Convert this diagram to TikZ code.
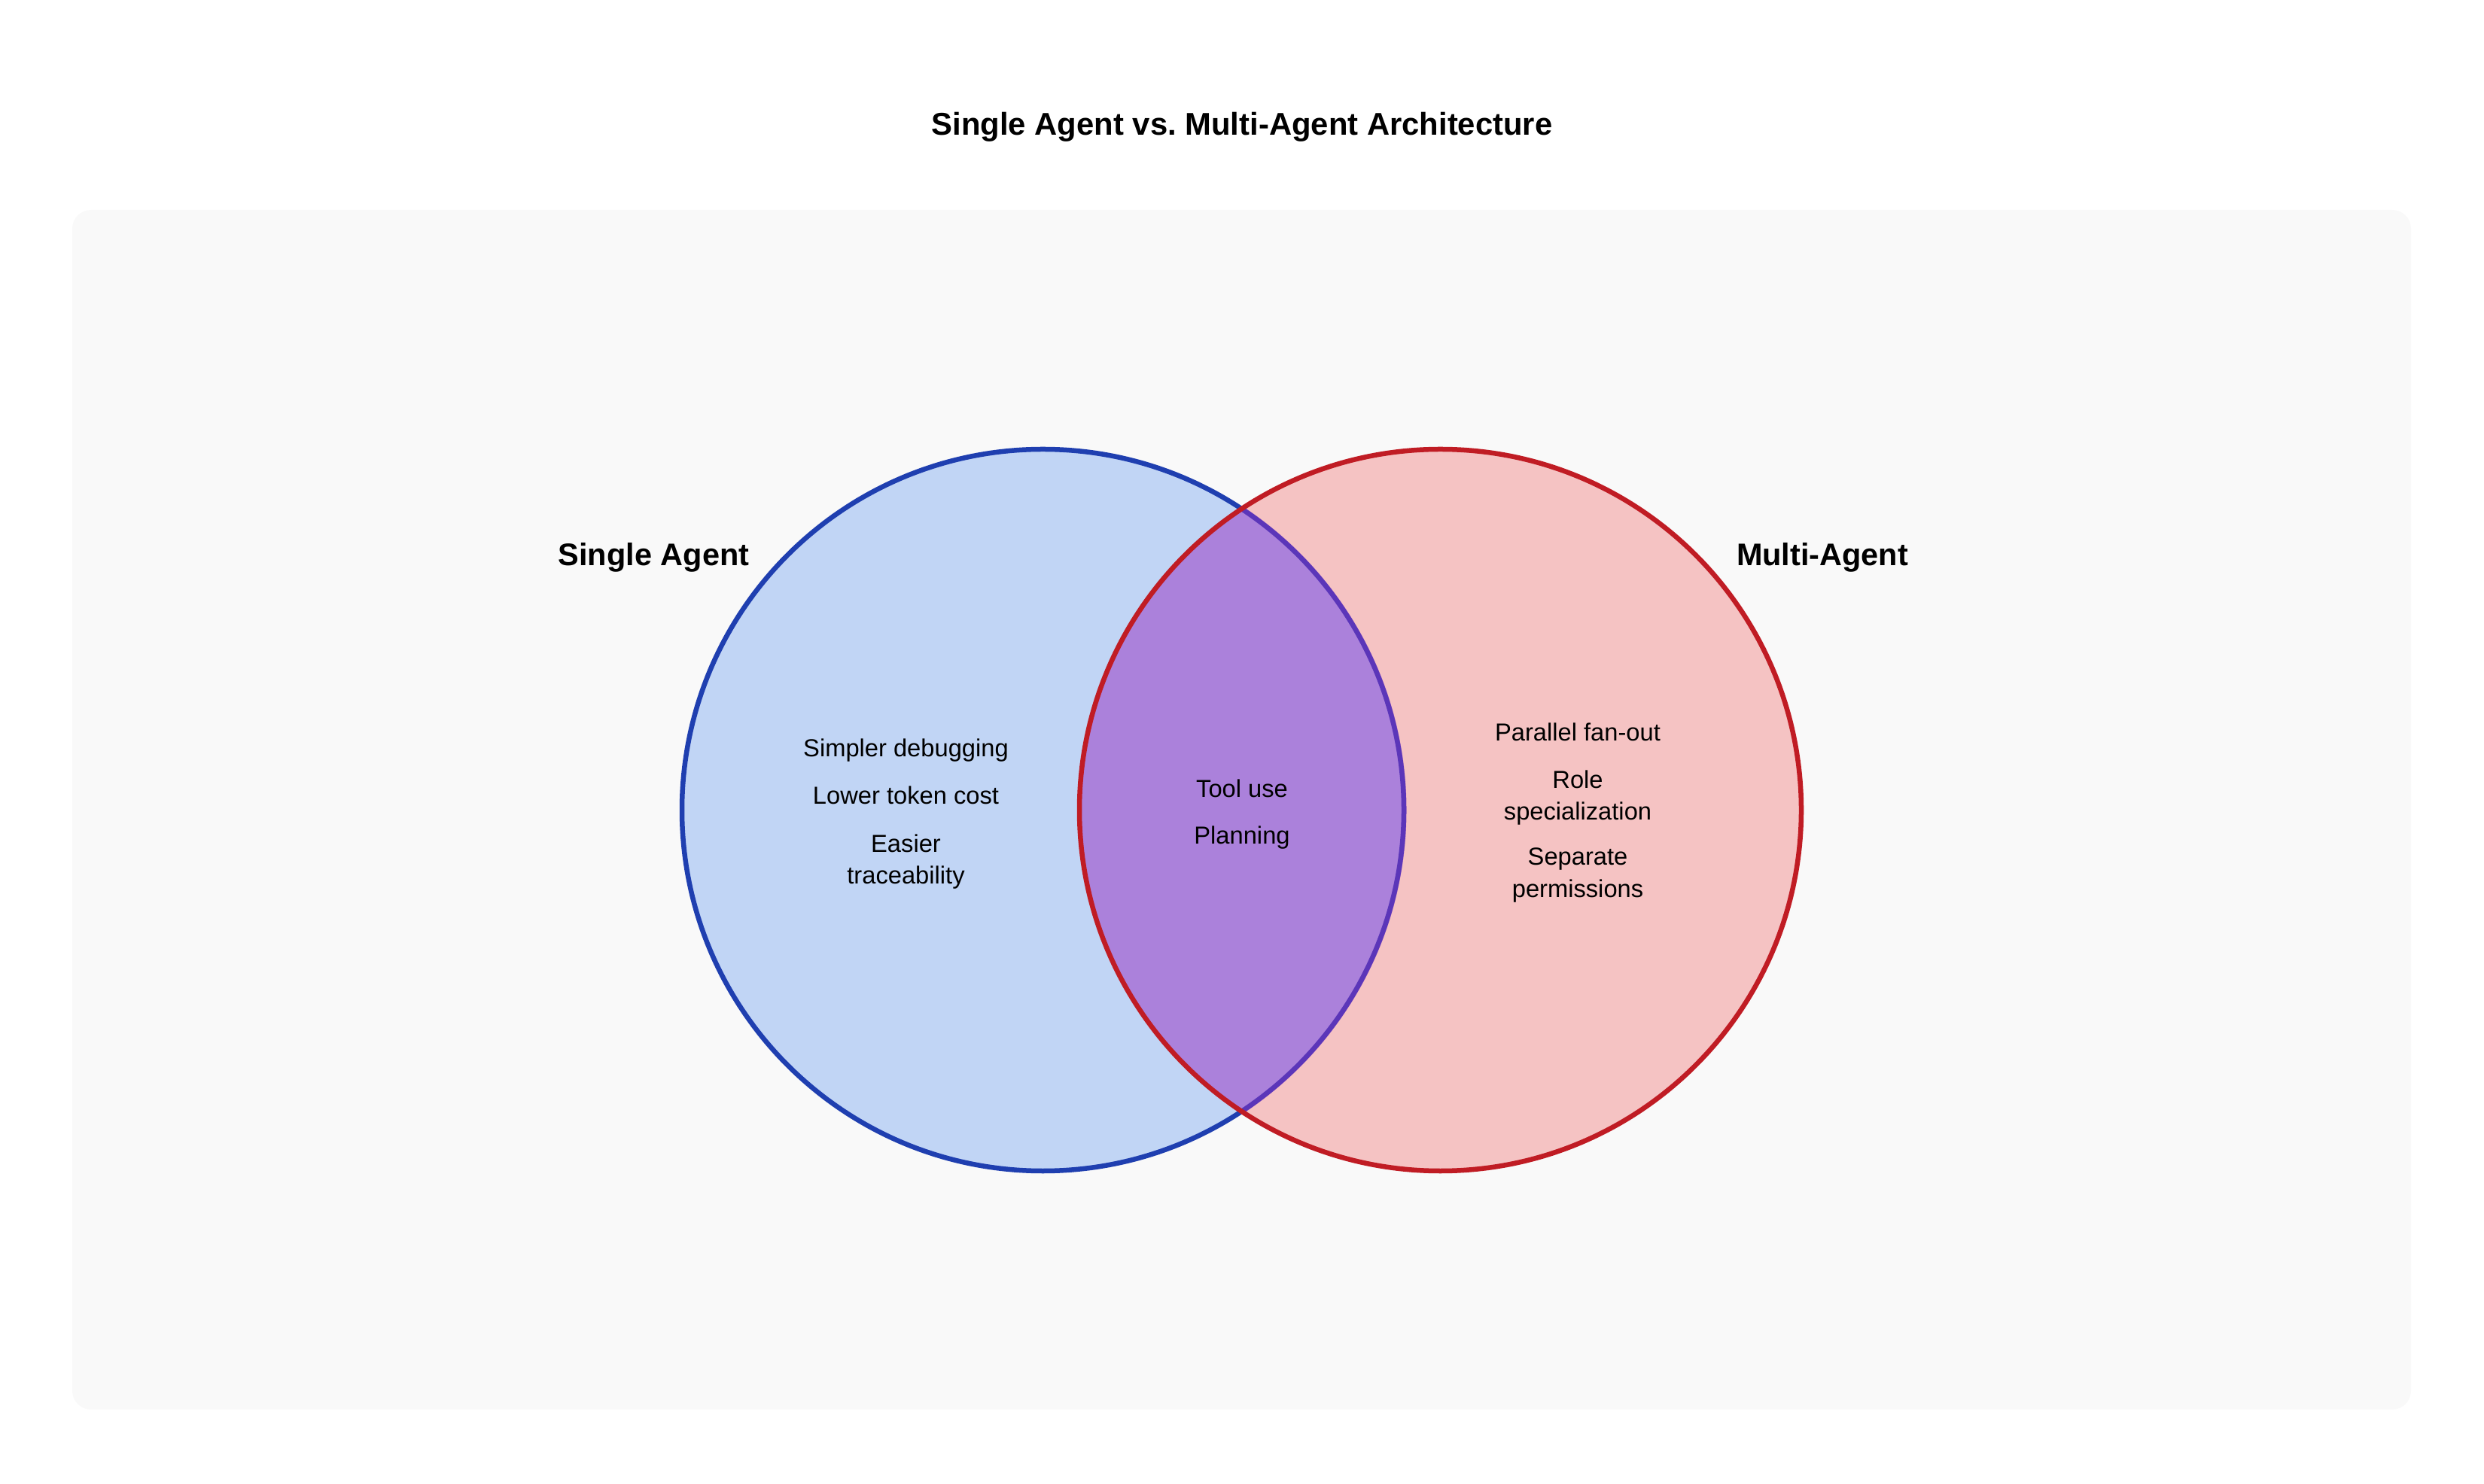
\documentclass[tikz,border=0pt]{standalone}
\usepackage{fontspec}
\setmainfont{Liberation Sans}
\usepackage{xcolor}
\usetikzlibrary{positioning}
\definecolor{panelgray}{HTML}{F9F9F9}
\definecolor{singlefill}{HTML}{C1D5F5}
\definecolor{singleline}{HTML}{1F3FB0}
\definecolor{multifill}{HTML}{F5C3C3}
\definecolor{multiline}{HTML}{C01C24}
\definecolor{overlap}{RGB}{151,47,195}

\begin{document}
\begin{tikzpicture}[x=1cm,y=1cm,
  item/.style={align=center,anchor=base,font=\fontsize{9.3}{11.95}\selectfont},
  setname/.style={anchor=base,font=\fontsize{11.8}{14}\selectfont\bfseries},
  rim/.style={line width=1.85pt}]
\useasboundingbox (0,0) rectangle (33,19.71);
\fill[panelgray,rounded corners=7pt] (0.96,0.98) rectangle (32.03,16.92);
\node[anchor=base,font=\fontsize{11.9}{14}\selectfont\bfseries] (title) at (16.5,17.91) {Single Agent vs.\ Multi-Agent Architecture};

% the two sets
\coordinate (cs) at (13.855,8.945);
\coordinate (cm) at (19.135,8.945);
\fill[multifill] (cm) circle (4.795);
\fill[singlefill] (cs) circle (4.795);
\draw[singleline,rim] (cs) circle (4.795);
\begin{scope}
\clip (cm) circle (4.795);
\fill[overlap,opacity=0.5] (cs) circle (4.83);
\end{scope}
\draw[multiline,rim] (cm) circle (4.795);

\node[setname] (single) at (8.685,12.19) {Single Agent};
\node[setname] (multi) at (24.21,12.19) {Multi-Agent};

% left only (base = last line)
\node[item] (debug) at (12.035,9.65) {Simpler debugging};
\node[item] (tokens) at (12.035,9.02) {Lower token cost};
\node[item] (trace) at (12.035,7.96) {Easier\\traceability};
% shared
\node[item] (tools) at (16.5,9.11) {Tool use};
\node[item] (plan) at (16.5,8.49) {Planning};
% right only
\node[item] (fanout) at (20.96,9.86) {Parallel fan-out};
\node[item] (roles) at (20.96,8.81) {Role\\specialization};
\node[item] (perms) at (20.96,7.79) {Separate\\permissions};
\end{tikzpicture}
\end{document}
